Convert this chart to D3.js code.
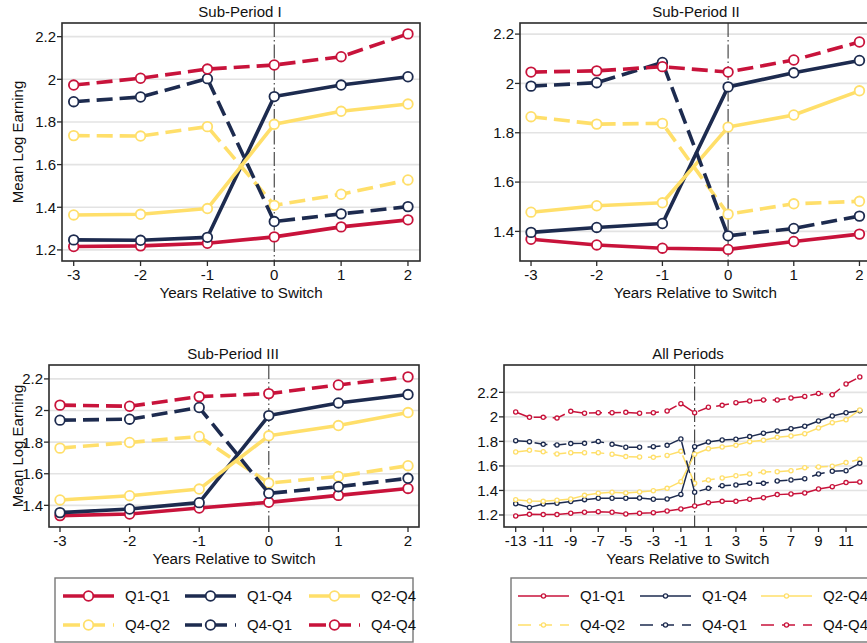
<!DOCTYPE html>
<html>
<head>
<meta charset="utf-8">
<script src="https://cdn.jsdelivr.net/npm/d3@7"></script>
<style>
  html, body { margin: 0; padding: 0; background: #fff; }
  svg { display: block; font-family: "Liberation Sans", Arial, sans-serif; }
</style>
</head>
<body>
<svg id="chart" width="867" height="643"></svg>
<script>
// categories
const seriesNames = ['Q1-Q1', 'Q1-Q4', 'Q2-Q4', 'Q4-Q2', 'Q4-Q1', 'Q4-Q4'];
const years = [-3, -2, -1, 0, 1, 2];
const yearsAll = [-13, -12, -11, -10, -9, -8, -7, -6, -5, -4, -3, -2, -1, 0, 1, 2, 3, 4, 5, 6, 7, 8, 9, 10, 11, 12];

// tick labels
const xTicksSub = [-3, -2, -1, 0, 1, 2];
const xTicksAll = [-13, -11, -9, -7, -5, -3, -1, 1, 3, 5, 7, 9, 11];
const yTicks1 = [1.2, 1.4, 1.6, 1.8, 2, 2.2];
const yTicks2 = [1.4, 1.6, 1.8, 2, 2.2];
const yTicks3 = [1.4, 1.6, 1.8, 2, 2.2];
const yTicks4 = [1.2, 1.4, 1.6, 1.8, 2, 2.2];

// Sub-Period I
const sp1Q1Q1 = [1.216, 1.219, 1.231, 1.261, 1.308, 1.341];
const sp1Q1Q4 = [1.247, 1.245, 1.259, 1.919, 1.973, 2.012];
const sp1Q2Q4 = [1.364, 1.367, 1.394, 1.789, 1.850, 1.884];
const sp1Q4Q2 = [1.736, 1.734, 1.778, 1.409, 1.461, 1.528];
const sp1Q4Q1 = [1.895, 1.917, 2.003, 1.333, 1.369, 1.403];
const sp1Q4Q4 = [1.973, 2.005, 2.048, 2.067, 2.106, 2.213];

// Sub-Period II
const sp2Q1Q1 = [1.368, 1.345, 1.332, 1.327, 1.359, 1.389];
const sp2Q1Q4 = [1.396, 1.416, 1.432, 1.986, 2.043, 2.093];
const sp2Q2Q4 = [1.478, 1.504, 1.516, 1.823, 1.872, 1.970];
const sp2Q4Q2 = [1.865, 1.835, 1.838, 1.470, 1.512, 1.522];
const sp2Q4Q1 = [1.989, 2.003, 2.085, 1.382, 1.412, 1.462];
const sp2Q4Q4 = [2.046, 2.051, 2.068, 2.046, 2.095, 2.168];

// Sub-Period III
const sp3Q1Q1 = [1.335, 1.345, 1.383, 1.419, 1.463, 1.507];
const sp3Q1Q4 = [1.354, 1.377, 1.417, 1.968, 2.048, 2.101];
const sp3Q2Q4 = [1.434, 1.461, 1.503, 1.840, 1.905, 1.987];
const sp3Q4Q2 = [1.762, 1.798, 1.836, 1.541, 1.583, 1.651];
const sp3Q4Q1 = [1.939, 1.945, 2.019, 1.476, 1.518, 1.571];
const sp3Q4Q4 = [2.034, 2.027, 2.088, 2.107, 2.162, 2.213];

// All Periods
const allQ1Q1 = [1.192, 1.205, 1.203, 1.203, 1.214, 1.222, 1.227, 1.222, 1.208, 1.214, 1.219, 1.233, 1.249,
                 1.273, 1.300, 1.311, 1.311, 1.328, 1.341, 1.366, 1.371, 1.379, 1.412, 1.431, 1.464, 1.469];
const allQ1Q4 = [1.292, 1.262, 1.290, 1.295, 1.309, 1.325, 1.336, 1.336, 1.336, 1.339, 1.328, 1.330, 1.368,
                 1.757, 1.795, 1.811, 1.817, 1.839, 1.866, 1.885, 1.904, 1.923, 1.966, 2.007, 2.034, 2.050];
const allQ2Q4 = [1.325, 1.314, 1.311, 1.320, 1.330, 1.360, 1.377, 1.385, 1.380, 1.388, 1.398, 1.417, 1.472,
                 1.695, 1.740, 1.754, 1.768, 1.798, 1.809, 1.833, 1.844, 1.863, 1.909, 1.953, 1.977, 2.056];
const allQ4Q2 = [1.714, 1.727, 1.716, 1.697, 1.708, 1.708, 1.708, 1.695, 1.676, 1.673, 1.670, 1.686, 1.719,
                 1.458, 1.485, 1.502, 1.520, 1.534, 1.550, 1.553, 1.561, 1.586, 1.591, 1.597, 1.627, 1.654];
const allQ4Q1 = [1.806, 1.798, 1.776, 1.771, 1.782, 1.784, 1.800, 1.776, 1.752, 1.752, 1.757, 1.768, 1.820,
                 1.385, 1.417, 1.439, 1.445, 1.458, 1.458, 1.477, 1.485, 1.496, 1.534, 1.556, 1.561, 1.621];
const allQ4Q4 = [2.040, 1.996, 1.996, 1.990, 2.045, 2.030, 2.034, 2.034, 2.037, 2.030, 2.034, 2.048, 2.108,
                 2.034, 2.078, 2.094, 2.116, 2.130, 2.137, 2.137, 2.154, 2.167, 2.190, 2.180, 2.268, 2.325];

const colors = { red: '#c8133b', navy: '#1d2b4f', yellow: '#ffdf6a' };
const seriesStyle = [
  { color: colors.red, dashed: false },
  { color: colors.navy, dashed: false },
  { color: colors.yellow, dashed: false },
  { color: colors.yellow, dashed: true },
  { color: colors.navy, dashed: true },
  { color: colors.red, dashed: true }
];

const svg = d3.select('#chart');

function drawPanel(p) {
  const x = d3.scaleLinear().domain(p.xDomain).range([p.left, p.right]);
  const y = d3.scaleLinear().domain(p.yDomain).range([p.bottom, p.top]);
  const g = svg.append('g');

  // gridlines
  g.selectAll('.grid')
    .data(p.yTicks)
    .enter()
    .append('line')
    .attr('x1', p.left)
    .attr('x2', p.right)
    .attr('y1', d => y(d))
    .attr('y2', d => y(d))
    .attr('stroke', '#e3e3e3')
    .attr('stroke-width', 1.6);

  // reference line at switch
  g.append('line')
    .attr('x1', x(0))
    .attr('x2', x(0))
    .attr('y1', p.top)
    .attr('y2', p.bottom)
    .attr('stroke', '#3a3a3a')
    .attr('stroke-width', 1.1)
    .attr('stroke-dasharray', '14,3,1.5,3');

  // series
  const line = d3.line().x((d, i) => x(p.xs[i])).y(d => y(d));
  p.series.forEach((vals, k) => {
    const st = seriesStyle[k];
    g.append('path')
      .attr('d', line(vals))
      .attr('fill', 'none')
      .attr('stroke', st.color)
      .attr('stroke-width', p.lw)
      .attr('stroke-linejoin', 'round')
      .attr('stroke-dasharray', st.dashed ? p.dash : null);
    g.selectAll('.m' + k)
      .data(vals)
      .enter()
      .append('circle')
      .attr('cx', (d, i) => x(p.xs[i]))
      .attr('cy', d => y(d))
      .attr('r', p.mr)
      .attr('fill', '#fff')
      .attr('stroke', st.color)
      .attr('stroke-width', p.mw);
  });

  // frame
  g.append('rect')
    .attr('x', p.left)
    .attr('y', p.top)
    .attr('width', p.right - p.left)
    .attr('height', p.bottom - p.top)
    .attr('fill', 'none')
    .attr('stroke', '#2b2b2b')
    .attr('stroke-width', 1.6);

  // y ticks
  g.selectAll('.yt')
    .data(p.yTicks)
    .enter()
    .append('line')
    .attr('x1', p.left - 5)
    .attr('x2', p.left)
    .attr('y1', d => y(d))
    .attr('y2', d => y(d))
    .attr('stroke', '#2b2b2b')
    .attr('stroke-width', 1.3);
  g.selectAll('.yl')
    .data(p.yTicks)
    .enter()
    .append('text')
    .attr('x', p.left - 6)
    .attr('y', d => y(d))
    .attr('dy', '0.36em')
    .attr('text-anchor', 'end')
    .attr('font-size', 15)
    .attr('fill', '#111')
    .text(d => d3.format('')(d));

  // x ticks
  g.selectAll('.xt')
    .data(p.xTicks)
    .enter()
    .append('line')
    .attr('x1', d => x(d))
    .attr('x2', d => x(d))
    .attr('y1', p.bottom)
    .attr('y2', p.bottom + 5)
    .attr('stroke', '#2b2b2b')
    .attr('stroke-width', 1.3);
  g.selectAll('.xl')
    .data(p.xTicks)
    .enter()
    .append('text')
    .attr('x', d => x(d))
    .attr('y', p.bottom + 19)
    .attr('text-anchor', 'middle')
    .attr('font-size', 15)
    .attr('fill', '#111')
    .text(d => d);

  g.append('text')
    .attr('x', (p.left + p.right) / 2)
    .attr('y', p.bottom + 37)
    .attr('text-anchor', 'middle')
    .attr('font-size', 15.2)
    .attr('fill', '#111')
    .text('Years Relative to Switch');

  g.append('text')
    .attr('x', p.titleX)
    .attr('y', p.top - 6)
    .attr('text-anchor', 'middle')
    .attr('font-size', 15)
    .attr('fill', '#111')
    .text(p.title);

  if (p.yTitle) {
    g.append('text')
      .attr('transform', `translate(${p.yTitleX},${(p.top + p.bottom) / 2}) rotate(-90)`)
      .attr('text-anchor', 'middle')
      .attr('font-size', 15)
      .attr('fill', '#111')
      .text(p.yTitle);
  }
}

const thick = { lw: 3.6, mr: 4.8, mw: 1.8, dash: '16,7' };
const thin = { lw: 1.5, mr: 2.1, mw: 1.3, dash: '13,6' };

drawPanel(Object.assign({
  title: 'Sub-Period I', titleX: 240, yTitle: 'Mean Log Earning', yTitleX: 23,
  left: 62, right: 420, top: 23, bottom: 261,
  xDomain: [-3.175, 2.18], yDomain: [1.148, 2.264],
  xs: years, xTicks: xTicksSub, yTicks: yTicks1,
  series: [sp1Q1Q1, sp1Q1Q4, sp1Q2Q4, sp1Q4Q2, sp1Q4Q1, sp1Q4Q4]
}, thick));

drawPanel(Object.assign({
  title: 'Sub-Period II', titleX: 696,
  left: 520, right: 870.5, top: 23, bottom: 261,
  xDomain: [-3.168, 2.168], yDomain: [1.28, 2.245],
  xs: years, xTicks: xTicksSub, yTicks: yTicks2,
  series: [sp2Q1Q1, sp2Q1Q4, sp2Q2Q4, sp2Q4Q2, sp2Q4Q1, sp2Q4Q4]
}, thick));

drawPanel(Object.assign({
  title: 'Sub-Period III', titleX: 233, yTitle: 'Mean Log Earning', yTitleX: 23,
  left: 49, right: 419, top: 365, bottom: 527,
  xDomain: [-3.158, 2.158], yDomain: [1.263, 2.288],
  xs: years, xTicks: xTicksSub, yTicks: yTicks3,
  series: [sp3Q1Q1, sp3Q1Q4, sp3Q2Q4, sp3Q4Q2, sp3Q4Q1, sp3Q4Q4]
}, thick));

drawPanel(Object.assign({
  title: 'All Periods', titleX: 688,
  left: 504, right: 871.5, top: 365, bottom: 527,
  xDomain: [-13.85, 12.85], yDomain: [1.102, 2.423],
  xs: yearsAll, xTicks: xTicksAll, yTicks: yTicks4,
  series: [allQ1Q1, allQ1Q4, allQ2Q4, allQ4Q2, allQ4Q1, allQ4Q4]
}, thin));

// legends
function drawLegend(lg, st) {
  const g = svg.append('g');
  g.append('rect')
    .attr('x', lg.left)
    .attr('y', 578)
    .attr('width', lg.width)
    .attr('height', 64)
    .attr('fill', '#fff')
    .attr('stroke', '#777')
    .attr('stroke-width', 1.4);
  seriesNames.forEach((name, k) => {
    const col = k % 3;
    const row = Math.floor(k / 3);
    const x0 = lg.cols[col];
    const yy = row === 0 ? 596 : 625;
    const s = seriesStyle[k];
    g.append('line')
      .attr('x1', x0)
      .attr('x2', x0 + 51)
      .attr('y1', yy)
      .attr('y2', yy)
      .attr('stroke', s.color)
      .attr('stroke-width', st.lw)
      .attr('stroke-dasharray', s.dashed ? lg.dash : null);
    g.append('circle')
      .attr('cx', x0 + 25.5)
      .attr('cy', yy)
      .attr('r', st.mr)
      .attr('fill', '#fff')
      .attr('stroke', s.color)
      .attr('stroke-width', st.mw);
    g.append('text')
      .attr('x', x0 + 62)
      .attr('y', yy)
      .attr('dy', '0.36em')
      .attr('font-size', 15)
      .attr('fill', '#111')
      .text(name);
  });
}

drawLegend({ left: 55, width: 358, cols: [63, 185, 309], dash: '17,8' }, thick);
drawLegend({ left: 511, width: 370, cols: [518, 640, 761], dash: '13,8' }, thin);
</script>
</body>
</html>
